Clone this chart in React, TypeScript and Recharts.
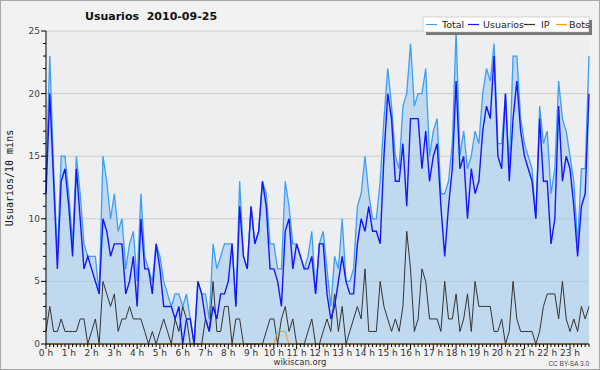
import React from 'react';
import { ComposedChart, Area, Line, XAxis, YAxis, CartesianGrid } from 'recharts';

// 10-minute slots, 0:00 .. 23:50
const slots = Array.from({ length: 144 }, (_, i) => i);

const total = [
  13, 23, 14, 7, 15, 15, 12, 8, 15, 12, 8, 7, 7, 7, 4, 15, 13, 10,
  12, 9, 10, 6, 8, 9, 5, 12, 7, 6, 5, 8, 7, 5, 4, 3, 4, 4,
  3, 4, 2, 0, 5, 4, 4, 2, 8, 6, 7, 8, 8, 8, 3, 13, 7, 6, 11,
  8, 9, 13, 12, 8, 8, 6, 6, 13, 11, 8, 8, 7, 6, 7, 9, 4, 8,
  9, 6, 3, 7, 6, 10, 5, 5, 6, 11, 12, 15, 12, 10, 10, 13, 18, 22,
  19, 15, 14, 19, 20, 24, 19, 20, 20, 22, 15, 17, 18, 12, 12, 13, 16, 25, 15,
  17, 14, 15, 17, 16, 20, 22, 21, 24, 16, 16, 20, 14, 23, 23, 18, 16, 15,
  14, 10, 19, 16, 17, 12, 14, 21, 18, 17, 15, 13, 8, 14, 14, 23,
];

const usuarios = [
  12, 20, 13, 6, 13, 14, 11, 7, 14, 10, 6, 7, 6, 5, 4, 10, 9, 7,
  8, 8, 8, 4, 5, 7, 3, 10, 6, 6, 4, 8, 6, 3, 3, 3, 2, 3,
  0, 2, 2, 0, 5, 4, 2, 1, 3, 2, 4, 4, 5, 8, 3, 11, 7, 6, 11,
  8, 9, 13, 11, 6, 6, 5, 3, 9, 10, 6, 8, 7, 6, 6, 7, 4, 8,
  8, 4, 2, 3, 5, 7, 5, 4, 4, 8, 10, 9, 11, 9, 9, 8, 15, 20,
  18, 13, 13, 16, 11, 18, 18, 18, 14, 17, 13, 15, 16, 11, 7, 11, 14, 21, 14,
  15, 10, 14, 12, 13, 17, 19, 18, 23, 15, 14, 20, 13, 18, 21, 17, 15, 14,
  13, 10, 18, 13, 13, 8, 10, 19, 13, 15, 14, 11, 7, 11, 12, 20,
];

const ip = [
  1, 3, 1, 1, 2, 1, 1, 1, 1, 2, 2, 0, 1, 2, 0, 5, 4, 3,
  4, 1, 2, 2, 3, 2, 2, 2, 1, 0, 1, 0, 1, 2, 1, 0, 2, 1,
  3, 2, 0, 0, 0, 0, 2, 1, 5, 1, 1, 3, 3, 0, 2, 2, 0, 0, 0,
  0, 0, 0, 1, 2, 2, 0, 2, 3, 1, 2, 0, 0, 0, 1, 2, 0, 0,
  1, 2, 1, 4, 1, 3, 0, 1, 2, 3, 2, 6, 1, 1, 1, 5, 3, 2,
  1, 2, 1, 3, 9, 6, 1, 2, 6, 5, 2, 2, 2, 1, 5, 2, 2, 4, 1,
  2, 4, 1, 5, 3, 3, 3, 3, 1, 1, 2, 0, 1, 5, 2, 1, 1, 1,
  1, 0, 1, 3, 4, 4, 4, 2, 5, 2, 1, 2, 1, 3, 2, 3,
];

const bots = slots.map((i) => (i >= 61 && i <= 63 ? 1 : 0));

const yTicks = Array.from({ length: 26 }, (_, i) => i);
const gridValues = [5, 10, 15, 20, 25];

const rows = slots.map((i) => ({
  i,
  total: total[i],
  usuarios: usuarios[i],
  ip: ip[i],
  bots: bots[i],
}));

const legendItems = [
  { name: 'Total', color: '#3d9ef5', x: 426, tx: 442 },
  { name: 'Usuarios', color: '#1515ff', x: 468, tx: 483 },
  { name: 'IP', color: '#333333', x: 524, tx: 541 },
  { name: 'Bots', color: '#ff9a00', x: 556, tx: 569 },
];

const XTick = (props: any) => {
  const { x, y, payload } = props;
  const v = payload.value;
  const major = v % 6 === 0;
  return (
    <g>
      <line x1={x} x2={x} y1={y} y2={y + (major ? 5 : 3)} stroke="#000" strokeWidth={1} />
      {major && (
        <text x={x} y={y + 12} textAnchor="middle" fontSize={9} fill="#333" fontFamily="DejaVu Sans">
          {`${v / 6} h`}
        </text>
      )}
    </g>
  );
};

const YTick = (props: any) => {
  const { x, y, payload } = props;
  const v = payload.value;
  const major = v % 5 === 0;
  return (
    <g>
      <line x1={x - (major ? 5 : 3)} x2={x} y1={y} y2={y} stroke="#000" strokeWidth={1} />
      {major && (
        <text x={x - 6} y={y + 3} textAnchor="end" fontSize={9} fill="#444" fontFamily="DejaVu Sans">
          {v}
        </text>
      )}
    </g>
  );
};

export default function App() {
  return (
    <div style={{ position: 'relative', width: 600, height: 370, background: '#f2f2f2' }}>
      <style>{'body{margin:0}'}</style>
      <ComposedChart
        width={600}
        height={370}
        data={rows}
        margin={{ top: 31, right: 11, bottom: 0, left: 0 }}
      >
        <CartesianGrid
          vertical={false}
          horizontalValues={gridValues}
          stroke="#cccccc"
          fill="#edeef0"
        />
        <XAxis
          dataKey="i"
          type="number"
          domain={[0, 143]}
          ticks={slots}
          interval={0}
          tick={<XTick />}
          tickLine={false}
          tickSize={0}
          tickMargin={0}
          height={26}
          axisLine={{ stroke: '#000' }}
        />
        <YAxis
          type="number"
          domain={[0, 25]}
          ticks={yTicks}
          interval={0}
          tick={<YTick />}
          tickLine={false}
          tickSize={0}
          tickMargin={0}
          width={46}
          axisLine={{ stroke: '#000' }}
        />
        <Area
          type="linear"
          dataKey="total"
          stroke="#3d9ef5"
          strokeWidth={1.3}
          fill="#9cc8ee"
          fillOpacity={0.55}
          dot={false}
          activeDot={false}
          isAnimationActive={false}
        />
        <Line type="linear" dataKey="ip" stroke="#333333" strokeWidth={1} dot={false} activeDot={false} isAnimationActive={false} />
        <Line type="linear" dataKey="bots" stroke="#ff9a00" strokeWidth={1} dot={false} activeDot={false} isAnimationActive={false} />
        <Line type="linear" dataKey="usuarios" stroke="#1515ff" strokeWidth={1.4} dot={false} activeDot={false} isAnimationActive={false} />
      </ComposedChart>
      <svg width={600} height={370} style={{ position: 'absolute', left: 0, top: 0, pointerEvents: 'none' }}>
        <rect x={0.5} y={0.5} width={599} height={369} fill="none" stroke="#a8a8a8" />
        <text x={151} y={20} textAnchor="middle" fontSize={11} fontWeight="bold" fontFamily="DejaVu Sans" fill="#111">
          Usuarios{'\u00a0\u00a0'}2010-09-25
        </text>
        <text
          x={13}
          y={178}
          transform="rotate(-90 13 178)"
          textAnchor="middle"
          fontSize={10}
          fontFamily="DejaVu Sans Mono"
          fill="#111"
        >
          Usuarios/10 mins
        </text>
        <rect x={426} y={20} width={166} height={15} fill="#777" />
        <rect x={423} y={17} width={166} height={15} fill="#fff" stroke="#aaa" strokeWidth={0.5} />
        {legendItems.map((it) => (
          <g key={it.name}>
            <line x1={it.x} x2={it.x + 11} y1={24.5} y2={24.5} stroke={it.color} strokeWidth={1.2} />
            <text x={it.tx} y={28} fontSize={9.5} fontFamily="DejaVu Sans" fill="#222">
              {it.name}
            </text>
          </g>
        ))}
        <text x={300} y={365} textAnchor="middle" fontSize={8.5} fontFamily="DejaVu Sans" fill="#333">
          wikiscan.org
        </text>
        <text x={589} y={366} textAnchor="end" fontSize={6.5} fontFamily="Liberation Sans" fill="#444">
          CC BY-SA 3.0
        </text>
      </svg>
    </div>
  );
}
